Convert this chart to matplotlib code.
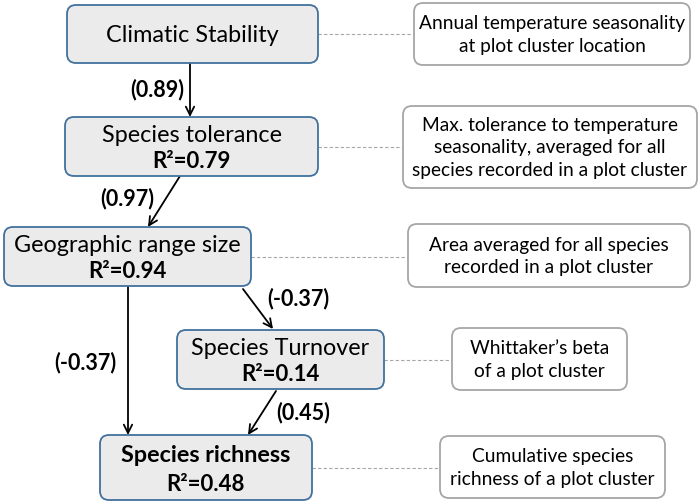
import matplotlib
matplotlib.use("Agg")
import matplotlib.pyplot as plt
from matplotlib.patches import FancyBboxPatch

plt.rcParams['font.family'] = ['Lato', 'DejaVu Sans']

# node names, R2 values and path coefficients
node_names = ["Climatic Stability", "Species tolerance", "Geographic range size",
              "Species Turnover", "Species richness"]
r2_values = [None, 0.79, 0.94, 0.14, 0.48]
notes = ["Annual temperature seasonality\nat plot cluster location",
         "Max. tolerance to temperature\nseasonality, averaged for all\nspecies recorded in a plot cluster",
         "Area averaged for all species\nrecorded in a plot cluster",
         "Whittaker\u2019s beta\nof a plot cluster",
         "Cumulative species\nrichness of a plot cluster"]
path_from = [0, 1, 2, 2, 3]
path_to = [1, 2, 3, 4, 4]
path_coef = [0.89, 0.97, -0.37, -0.37, 0.45]

# layout (pixel units, y downward)
main_boxes = [(67, 5, 251, 58), (65, 117, 253, 59), (4, 227, 247, 59),
              (177, 330, 207, 59), (100, 435, 212, 65)]
note_boxes = [(414, 3, 276, 62), (403, 106, 294, 82), (408, 224, 282, 63),
              (452, 328, 175, 62), (440, 436, 225, 62)]
arrow_pts = [((190, 63), (190, 117)), ((180, 176), (148, 227)),
             ((243, 289), (273, 329)), ((128, 286), (128, 435)),
             ((276, 391), (248, 435))]
label_pos = [(157, 90), (127, 199), (298, 299), (85, 363), (303, 413)]

fig = plt.figure(figsize=(7, 5.04), dpi=100)
ax = fig.add_axes([0, 0, 1, 1])
ax.set_xlim(0, 700)
ax.set_ylim(504, 0)
ax.axis('off')

for i, name in enumerate(node_names):
    x, y, w, h = main_boxes[i]
    ax.add_patch(FancyBboxPatch((x, y), w, h, boxstyle="round,pad=0,rounding_size=9",
                                fc='#ebebeb', ec='#41719c', lw=1.3, zorder=2))
    cx = x + w / 2
    bold = 'bold' if i == 4 else 'normal'
    if r2_values[i] is None:
        ax.text(cx, y + h / 2 + 1, name, ha='center', va='center', fontsize=16.8,
                fontweight=bold, zorder=3)
    else:
        ax.text(cx, y + h * 0.31, name, ha='center', va='center', fontsize=16.8,
                fontweight=bold, zorder=3)
        ax.text(cx, y + h * 0.76, "R\u00b2=%.2f" % r2_values[i], ha='center',
                va='center', fontsize=16, fontweight='bold', zorder=3)

    nx, ny, nw, nh = note_boxes[i]
    ax.add_patch(FancyBboxPatch((nx, ny), nw, nh, boxstyle="round,pad=0,rounding_size=9",
                                fc='white', ec='#a6a6a6', lw=1.3, zorder=2))
    ax.text(nx + nw / 2, ny + nh / 2 + 1, notes[i], ha='center', va='center',
            fontsize=13.8, linespacing=1.38, zorder=3)
    # dashed connector
    yc = y + h / 2
    ax.plot([x + w, nx], [yc, yc], color='#a6a6a6', lw=0.8, ls=(0, (3, 2)), zorder=1)

for k in range(len(path_coef)):
    (x0, y0), (x1, y1) = arrow_pts[k]
    ax.annotate("", xy=(x1, y1), xytext=(x0, y0),
                arrowprops=dict(arrowstyle='->,head_length=0.6,head_width=0.3',
                                color='black', lw=1.3, shrinkA=0, shrinkB=0), zorder=1)
    lx, ly = label_pos[k]
    ax.text(lx, ly, "(%.2f)" % path_coef[k], ha='center', va='center', fontsize=15.5,
            fontweight='bold')

fig.savefig("out.png", dpi=100)
